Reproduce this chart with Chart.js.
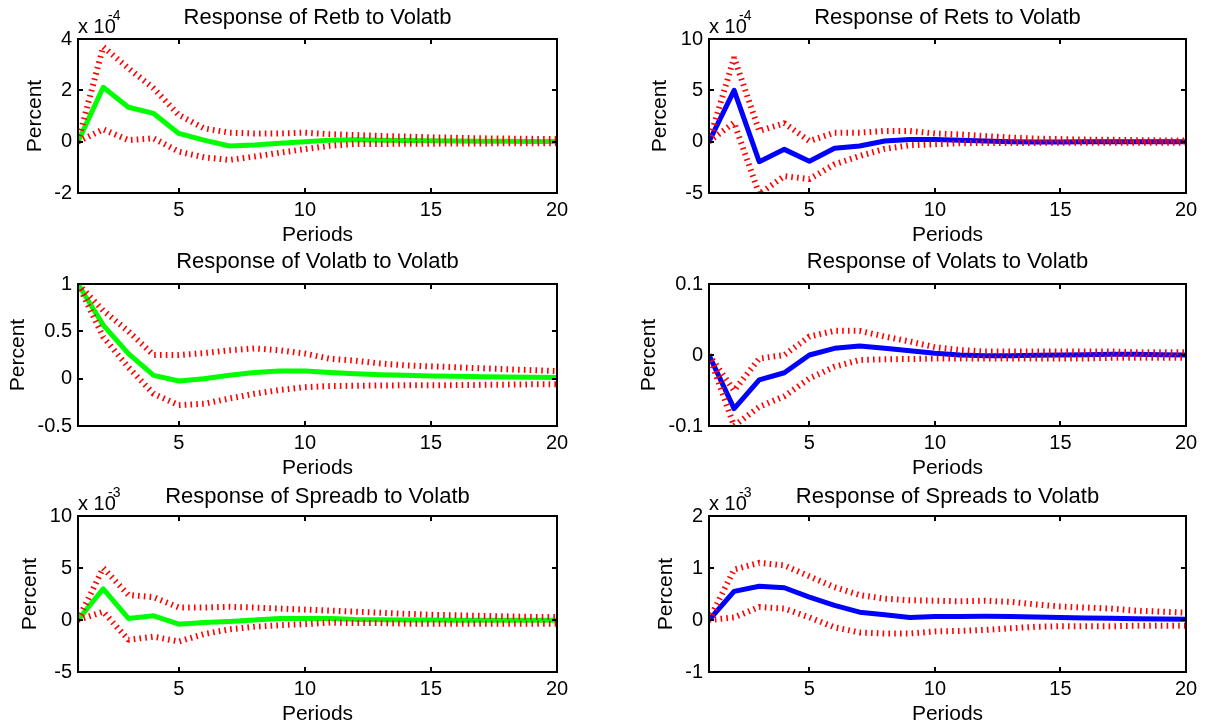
<!DOCTYPE html>
<html>
<head>
<meta charset="utf-8">
<title>Impulse responses to Volatb</title>
<script src="https://cdn.jsdelivr.net/npm/chart.js@4.4.0/dist/chart.umd.min.js"></script>
<style>
  body { margin: 0; background: #fff; }
  #fig { position: relative; width: 1210px; height: 727px; overflow: hidden; background: #fff; }
  #fig canvas { position: absolute; }
</style>
</head>
<body>
<div id="fig"></div>
<script>
const periods = [1, 2, 3, 4, 5, 6, 7, 8, 9, 10, 11, 12, 13, 14, 15, 16, 17, 18, 19, 20];
const xTicks = [5, 10, 15, 20];

// Retb (x 10^-4)
const retbUpper = [0, 3.7, 2.86, 2.08, 1.04, 0.52, 0.35, 0.32, 0.32, 0.35, 0.29, 0.26, 0.22, 0.2, 0.17, 0.15, 0.13, 0.12, 0.11, 0.1];
const retbMid = [0, 2.12, 1.34, 1.1, 0.32, 0.06, -0.17, -0.13, -0.06, 0, 0.06, 0.07, 0.06, 0.05, 0.04, 0.03, 0.02, 0.02, 0.01, 0.01];
const retbLower = [0, 0.48, 0.06, 0.13, -0.39, -0.61, -0.71, -0.58, -0.43, -0.29, -0.16, -0.09, -0.09, -0.08, -0.08, -0.07, -0.07, -0.06, -0.06, -0.06];
const retbTicks = [-2, 0, 2, 4];

// Rets (x 10^-4)
const retsUpper = [0, 8.2, 1.04, 1.8, 0.06, 0.88, 0.88, 1.04, 1.04, 0.8, 0.7, 0.55, 0.4, 0.3, 0.25, 0.2, 0.18, 0.15, 0.12, 0.1];
const retsMid = [0, 5.0, -1.95, -0.75, -1.9, -0.65, -0.42, 0.06, 0.2, 0.2, 0.15, 0.06, 0, -0.03, -0.03, -0.02, -0.01, 0, 0, 0];
const retsLower = [0, 1.85, -5.1, -3.35, -3.65, -2.2, -1.4, -0.7, -0.35, -0.25, -0.15, -0.12, -0.12, -0.12, -0.1, -0.1, -0.1, -0.1, -0.1, -0.1];
const retsTicks = [-5, 0, 5, 10];

// Volatb
const volatbUpper = [1, 0.72, 0.5, 0.25, 0.25, 0.27, 0.3, 0.32, 0.3, 0.265, 0.21, 0.19, 0.16, 0.14, 0.13, 0.12, 0.11, 0.1, 0.09, 0.08];
const volatbMid = [1, 0.565, 0.265, 0.035, -0.025, 0, 0.035, 0.064, 0.08, 0.08, 0.064, 0.053, 0.042, 0.035, 0.028, 0.025, 0.021, 0.018, 0.015, 0.013];
const volatbLower = [1, 0.44, 0.12, -0.16, -0.28, -0.265, -0.21, -0.16, -0.12, -0.09, -0.078, -0.075, -0.072, -0.07, -0.07, -0.068, -0.065, -0.063, -0.06, -0.06];
const volatbTicks = [-0.5, 0, 0.5, 1];

// Volats
const volatsUpper = [0, -0.05, -0.005, 0, 0.026, 0.034, 0.034, 0.026, 0.019, 0.011, 0.007, 0.005, 0.005, 0.005, 0.005, 0.005, 0.005, 0.004, 0.004, 0.004];
const volatsMid = [0, -0.0755, -0.035, -0.025, 0, 0.0094, 0.0127, 0.0094, 0.006, 0.0024, 0, -0.001, -0.001, -0.0005, 0, 0.0005, 0.001, 0.001, 0.0005, 0];
const volatsLower = [0, -0.1, -0.073, -0.058, -0.033, -0.0165, -0.007, -0.006, -0.0057, -0.005, -0.005, -0.005, -0.005, -0.005, -0.005, -0.005, -0.004, -0.004, -0.004, -0.004];
const volatsTicks = [-0.1, 0, 0.1];

// Spreadb (x 10^-3)
const spreadbUpper = [0, 5.0, 2.4, 2.2, 1.2, 1.2, 1.27, 1.2, 1.1, 1.0, 0.9, 0.8, 0.7, 0.6, 0.5, 0.45, 0.4, 0.35, 0.3, 0.3];
const spreadbMid = [0, 3.0, 0.15, 0.4, -0.4, -0.25, -0.15, 0, 0.15, 0.15, 0.15, 0.06, 0.03, 0, 0, -0.03, -0.03, -0.02, -0.02, -0.02];
const spreadbLower = [0, 0.8, -1.9, -1.6, -2.07, -1.35, -0.9, -0.65, -0.5, -0.4, -0.25, -0.3, -0.3, -0.35, -0.35, -0.35, -0.35, -0.35, -0.35, -0.35];
const spreadbTicks = [-5, 0, 5, 10];

// Spreads (x 10^-3)
const spreadsUpper = [0, 0.97, 1.1, 1.05, 0.84, 0.63, 0.48, 0.41, 0.38, 0.37, 0.36, 0.37, 0.35, 0.3, 0.26, 0.24, 0.22, 0.18, 0.16, 0.14];
const spreadsMid = [0, 0.55, 0.65, 0.62, 0.44, 0.28, 0.15, 0.1, 0.05, 0.065, 0.065, 0.07, 0.065, 0.06, 0.05, 0.04, 0.033, 0.026, 0.02, 0.013];
const spreadsLower = [0, 0.05, 0.25, 0.22, 0.05, -0.14, -0.24, -0.26, -0.26, -0.22, -0.21, -0.19, -0.16, -0.13, -0.12, -0.12, -0.12, -0.11, -0.11, -0.11];
const spreadsTicks = [-1, 0, 1, 2];

const GREEN = '#00ff00';
const BLUE = '#0000ff';
const RED = '#ff0000';
const FONT = "'Liberation Sans', Arial, Helvetica, sans-serif";

Chart.defaults.font.family = FONT;
Chart.defaults.color = '#000';

// box = [left, top, right, bottom] of the plot area on the page
const panels = [
  { title: 'Response of Retb to Volatb', upper: retbUpper, mid: retbMid, lower: retbLower, ticks: retbTicks, exp: '-4', color: GREEN, box: [78, 39, 557, 193], titleY: 18, ylabX: 35 },
  { title: 'Response of Rets to Volatb', upper: retsUpper, mid: retsMid, lower: retsLower, ticks: retsTicks, exp: '-4', color: BLUE, box: [709, 39, 1186, 193], titleY: 18, ylabX: 660 },
  { title: 'Response of Volatb to Volatb', upper: volatbUpper, mid: volatbMid, lower: volatbLower, ticks: volatbTicks, exp: null, color: GREEN, box: [78, 284, 557, 426], titleY: 262, ylabX: 18 },
  { title: 'Response of Volats to Volatb', upper: volatsUpper, mid: volatsMid, lower: volatsLower, ticks: volatsTicks, exp: null, color: BLUE, box: [709, 284, 1186, 426], titleY: 262, ylabX: 649 },
  { title: 'Response of Spreadb to Volatb', upper: spreadbUpper, mid: spreadbMid, lower: spreadbLower, ticks: spreadbTicks, exp: '-3', color: GREEN, box: [78, 516, 557, 672], titleY: 497, ylabX: 30 },
  { title: 'Response of Spreads to Volatb', upper: spreadsUpper, mid: spreadsMid, lower: spreadsLower, ticks: spreadsTicks, exp: '-3', color: BLUE, box: [709, 516, 1186, 672], titleY: 497, ylabX: 666 }
];

// matlab style: full box, ticks pointing inward on all four sides, exponent over the axis
const matlabAxes = {
  id: 'matlabAxes',
  afterDatasetsDraw(chart, args, opts) {
    const { ctx, chartArea: a } = chart;
    const x = chart.scales.x, y = chart.scales.y;
    const len = 5;
    ctx.save();
    ctx.strokeStyle = '#000';
    ctx.lineWidth = 2;
    ctx.strokeRect(a.left, a.top, a.right - a.left, a.bottom - a.top);
    ctx.beginPath();
    x.ticks.forEach(t => {
      const px = Math.round(x.getPixelForValue(t.value));
      ctx.moveTo(px, a.bottom); ctx.lineTo(px, a.bottom - len);
      ctx.moveTo(px, a.top); ctx.lineTo(px, a.top + len);
    });
    y.ticks.forEach(t => {
      const py = Math.round(y.getPixelForValue(t.value));
      ctx.moveTo(a.left, py); ctx.lineTo(a.left + len, py);
      ctx.moveTo(a.right, py); ctx.lineTo(a.right - len, py);
    });
    ctx.stroke();
    if (opts.exp) {
      ctx.fillStyle = '#000';
      ctx.textBaseline = 'alphabetic';
      ctx.textAlign = 'left';
      ctx.font = '20px ' + FONT;
      ctx.fillText('x 10', a.left, a.top - 6);
      ctx.font = '14px ' + FONT;
      ctx.fillText(opts.exp, a.left + 30, a.top - 19);
    }
    ctx.restore();
  }
};

const fig = document.getElementById('fig');

panels.forEach(p => {
  const [L, T, R, B] = p.box;
  const cx = L < 600 ? 0 : 605;
  const cw = 605;
  const topSpace = 45;
  const bottomSpace = 60;
  const cy = T - topSpace;
  const ch = B + bottomSpace - cy;

  const canvas = document.createElement('canvas');
  canvas.width = cw;
  canvas.height = ch;
  canvas.style.left = cx + 'px';
  canvas.style.top = cy + 'px';
  canvas.style.width = cw + 'px';
  canvas.style.height = ch + 'px';
  fig.appendChild(canvas);

  const titleSize = 22, labelSize = 21, tickSize = 20;
  const titleLH = titleSize * 1.2;
  const labelLH = labelSize * 1.2;
  const titleTop = p.titleY - cy - titleLH / 2;

  const band = { borderColor: RED, borderWidth: 6, borderDash: [1.6, 4.2], borderCapStyle: 'butt', borderJoinStyle: 'bevel' };

  new Chart(canvas, {
    type: 'line',
    data: {
      labels: periods,
      datasets: [
        Object.assign({ data: p.upper }, band),
        Object.assign({ data: p.lower }, band),
        { data: p.mid, borderColor: p.color, borderWidth: 5, borderJoinStyle: 'round' }
      ].map(d => Object.assign(d, {
        data: d.data.map((v, i) => ({ x: periods[i], y: v })),
        pointRadius: 0,
        tension: 0,
        fill: false
      }))
    },
    options: {
      responsive: false,
      animation: false,
      devicePixelRatio: 1,
      layout: { padding: { left: 0, top: 0, right: cw - (R - cx), bottom: 0 } },
      plugins: {
        legend: { display: false },
        tooltip: { enabled: false },
        title: {
          display: true,
          text: p.title,
          fullSize: false,
          color: '#000',
          font: { size: titleSize, weight: 'normal' },
          padding: { top: titleTop, bottom: topSpace - titleLH - titleTop }
        },
        matlabAxes: { exp: p.exp }
      },
      scales: {
        x: {
          type: 'linear',
          min: 1,
          max: 20,
          afterBuildTicks: axis => { axis.ticks = xTicks.map(v => ({ value: v })); },
          afterFit: axis => { axis.height = bottomSpace; },
          grid: { display: false, drawTicks: false },
          border: { display: false },
          ticks: { font: { size: tickSize }, color: '#000', padding: 5, maxRotation: 0, autoSkip: false },
          title: {
            display: true,
            text: 'Periods',
            color: '#000',
            font: { size: labelSize },
            padding: { top: 0, bottom: bottomSpace - 42 - labelLH / 2 }
          }
        },
        y: {
          min: p.ticks[0],
          max: p.ticks[p.ticks.length - 1],
          afterBuildTicks: axis => { axis.ticks = p.ticks.map(v => ({ value: v })); },
          afterFit: axis => { axis.width = L - cx; },
          grid: { display: false, drawTicks: false },
          border: { display: false },
          ticks: { font: { size: tickSize }, color: '#000', padding: 6, callback: v => String(v) },
          title: {
            display: true,
            text: 'Percent',
            color: '#000',
            font: { size: labelSize },
            padding: { top: p.ylabX - cx - labelLH / 2, bottom: 0 }
          }
        }
      }
    },
    plugins: [matlabAxes]
  });
});
</script>
</body>
</html>
